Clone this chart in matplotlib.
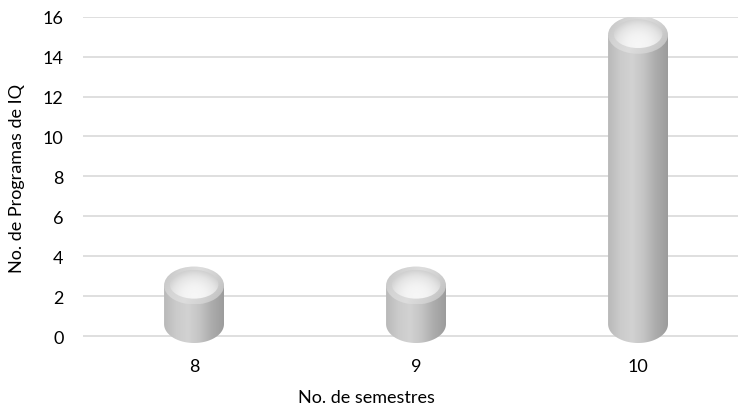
import matplotlib.pyplot as plt
import numpy as np
from matplotlib.patches import Ellipse, PathPatch
from matplotlib.path import Path
from matplotlib.colors import LinearSegmentedColormap

semestres = ['8', '9', '10']
programas = [2, 2, 15]

plt.rcParams['font.family'] = ['Lato', 'DejaVu Sans']

# shading for the cylinder walls and caps
body_cmap = LinearSegmentedColormap.from_list(
    'body', ['#b9b9b9', '#cbcbcb', '#d2d2d2', '#c4c4c4', '#acacac', '#9c9c9c'])
rim_cmap = LinearSegmentedColormap.from_list(
    'rim', ['#c2c2c2', '#d4d4d4', '#dddddd', '#d2d2d2', '#c0c0c0'])
cap_cmap = LinearSegmentedColormap.from_list(
    'cap', ['#fdfdfd', '#f3f3f3', '#e4e4e4', '#d0d0d0'])

rx, ry = 0.135, 0.95          # outer cap radii (data units)
irx, iry = 0.110, 0.72        # inner cap radii
lift, persp = 0.6, 0.966      # simple 3D projection of the bar height


def cylinder(ax, x, v):
    y0 = lift
    y1 = lift + v * persp
    # wall: rectangle plus the lower half of the base ellipse
    t = np.linspace(np.pi, 2 * np.pi, 60)
    verts = [(x - rx, y1), (x - rx, y0)]
    verts += list(zip(x + rx * np.cos(t), y0 + ry * np.sin(t)))
    verts += [(x + rx, y1), (x - rx, y1)]
    body = PathPatch(Path(verts), facecolor='none', edgecolor='none', zorder=3)
    ax.add_patch(body)
    grad = np.tile(np.linspace(0, 1, 200), (2, 1))
    im = ax.imshow(grad, extent=(x - rx, x + rx, y0 - ry, y1), cmap=body_cmap,
                   aspect='auto', origin='lower', interpolation='bilinear',
                   zorder=3, vmin=0, vmax=1)
    im.set_clip_path(body)

    # outer rim of the top cap
    outer = Ellipse((x, y1), 2 * rx, 2 * ry, facecolor='none', edgecolor='none', zorder=4)
    ax.add_patch(outer)
    gx, gy = np.meshgrid(np.linspace(0, 1, 120), np.linspace(0, 1, 120))
    rim = np.clip(gx * 0.8 + (1 - gy) * 0.25, 0, 1)
    im = ax.imshow(rim, extent=(x - rx, x + rx, y1 - ry, y1 + ry), cmap=rim_cmap,
                   aspect='auto', origin='lower', interpolation='bilinear',
                   zorder=4, vmin=0, vmax=1)
    im.set_clip_path(outer)

    # inner bright face of the cap, greyer towards its upper edge
    cy = y1 + 0.06
    inner = Ellipse((x, cy), 2 * irx, 2 * iry, facecolor='none',
                    edgecolor='none', zorder=5)
    ax.add_patch(inner)
    d = np.sqrt(((gx - 0.5) / 0.5) ** 2 + ((gy - 0.3) / 0.75) ** 2)
    face = np.clip(0.15 + d ** 2 * 0.55 + gy * 0.35, 0, 1)
    im = ax.imshow(face, extent=(x - irx, x + irx, cy - iry, cy + iry),
                   cmap=cap_cmap, aspect='auto', origin='lower',
                   interpolation='bilinear', zorder=5, vmin=0, vmax=1)
    im.set_clip_path(inner)


fig = plt.figure(figsize=(7.4, 4.1), dpi=100)
ax = fig.add_axes([0.1122, 0.1488, 0.885, 0.808])

xs = np.arange(len(semestres))
for x, v in zip(xs, programas):
    cylinder(ax, x, v)

ax.set_xlim(-0.5, 2.45)
ax.set_ylim(-0.6, 16)
ax.set_yticks(range(0, 17, 2))
ax.set_xticks(xs)
ax.set_xticklabels(semestres)
for yv in range(0, 17, 2):
    ax.axhline(yv, color='#d9d9d9', linewidth=1.2, zorder=1)

for s in ax.spines.values():
    s.set_visible(False)
ax.tick_params(axis='both', length=0, labelsize=13, colors='#000000')
ax.tick_params(axis='y', pad=14)
ax.tick_params(axis='x', pad=7)

ax.set_xlabel('No. de semestres', fontsize=13)
ax.set_ylabel('No. de Programas de IQ', fontsize=13)
ax.xaxis.set_label_coords(0.432, -0.125)
ax.yaxis.set_label_coords(-0.088, 0.515)

plt.savefig('out.png', dpi=100)
